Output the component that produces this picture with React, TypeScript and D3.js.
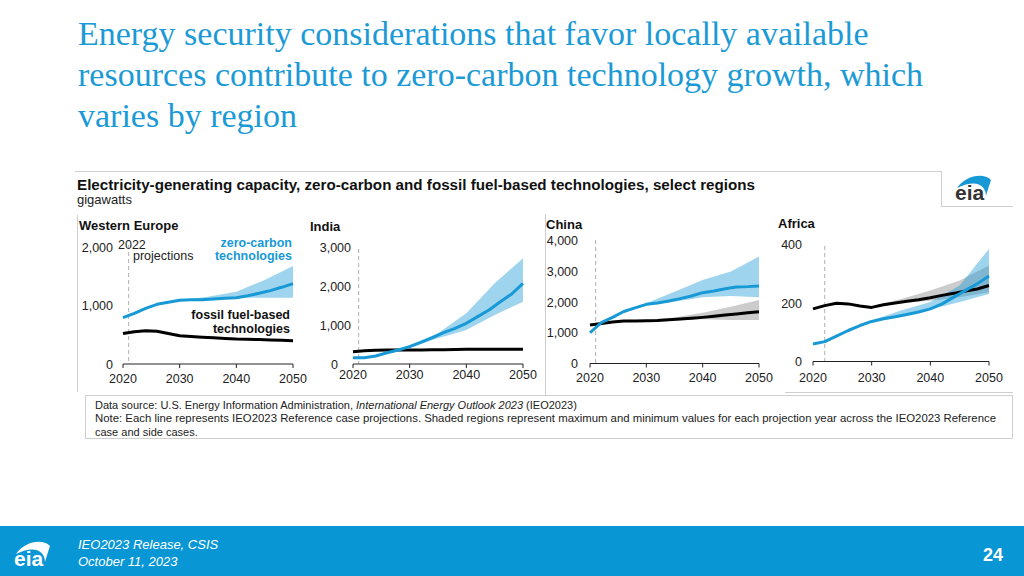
import React from "react";
import * as d3 from "d3";

// ---------- text ----------
const titleLines = [
  "Energy security considerations that favor locally available",
  "resources contribute to zero-carbon technology growth, which",
  "varies by region",
];
const chartTitle =
  "Electricity-generating capacity, zero-carbon and fossil fuel-based technologies, select regions";
const unitLabel = "gigawatts";
const sourcePre = "Data source: U.S. Energy Information Administration, ";
const sourceItalic = "International Energy Outlook 2023";
const sourcePost = " (IEO2023)";
const noteLine1 =
  "Note: Each line represents IEO2023 Reference case projections. Shaded regions represent maximum and minimum values for each projection year across the IEO2023 Reference";
const noteLine2 = "case and side cases.";
const footerLines = ["IEO2023 Release, CSIS", "October 11, 2023"];
const pageNumber = "24";

// ---------- data ----------
const regions = ["Western Europe", "India", "China", "Africa"];
const yMaxes = [2000, 3000, 4000, 400];
const yTickSteps = [1000, 1000, 1000, 200];
const xTickYears = [2020, 2030, 2040, 2050];
const projectionStart = [2021, 2021, 2021, 2022];
const lineYears = [2020, 2022, 2024, 2026, 2028, 2030, 2032, 2034, 2036, 2038, 2040, 2042, 2044, 2046, 2048, 2050];
const bandYears = [2028, 2030, 2035, 2040, 2045, 2050];

const weZero = [792, 866, 951, 1020, 1054, 1088, 1100, 1100, 1111, 1122, 1134, 1168, 1208, 1254, 1311, 1373];
const weFossil = [520, 553, 568, 560, 520, 484, 470, 458, 447, 437, 427, 424, 418, 410, 405, 399];
const weZeroLow = [1054, 1088, 1100, 1134, 1134, 1134];
const weZeroHigh = [1054, 1092, 1151, 1236, 1436, 1675];

const indiaZero = [162, 162, 205, 290, 359, 444, 556, 675, 803, 915, 1043, 1214, 1385, 1598, 1795, 2068];
const indiaFossil = [316, 342, 352, 359, 359, 359, 362, 365, 368, 372, 376, 376, 376, 376, 376, 376];
const indiaZeroLow = [359, 427, 658, 872, 1256, 1598];
const indiaZeroHigh = [359, 487, 786, 1299, 2068, 2709];

const chinaZero = [1000, 1326, 1500, 1690, 1810, 1924, 1970, 2030, 2110, 2196, 2304, 2360, 2430, 2490, 2500, 2522];
const chinaFossil = [1250, 1304, 1350, 1380, 1385, 1391, 1400, 1420, 1445, 1470, 1500, 1535, 1575, 1610, 1650, 1685];
const chinaZeroLow = [1810, 1902, 2011, 2152, 2196, 2152];
const chinaZeroHigh = [1810, 1957, 2337, 2717, 2989, 3478];
const chinaFossilLow = [1385, 1380, 1400, 1435, 1413, 1413];
const chinaFossilHigh = [1385, 1413, 1500, 1652, 1848, 2065];

const africaZero = [60, 68, 87, 106, 123, 137, 146, 153, 161, 169, 180, 197, 220, 243, 266, 292];
const africaFossil = [180, 191, 199, 197, 190, 185, 194, 200, 206, 211, 218, 226, 233, 241, 248, 260];
const africaZeroLow = [123, 134, 152, 178, 203, 231];
const africaZeroHigh = [123, 140, 174, 203, 260, 385];
const africaFossilLow = [190, 183, 200, 208, 220, 237];
const africaFossilHigh = [190, 188, 214, 243, 277, 328];

const zeroSeries = [weZero, indiaZero, chinaZero, africaZero];
const fossilSeries = [weFossil, indiaFossil, chinaFossil, africaFossil];
const zeroBands: (number[][] | null)[] = [
  [weZeroLow, weZeroHigh],
  [indiaZeroLow, indiaZeroHigh],
  [chinaZeroLow, chinaZeroHigh],
  [africaZeroLow, africaZeroHigh],
];
const fossilBands: (number[][] | null)[] = [
  null,
  null,
  [chinaFossilLow, chinaFossilHigh],
  [africaFossilLow, africaFossilHigh],
];

// ---------- layout / style ----------
const BLUE = "#1799d6";
const TITLE_BLUE = "#1b9ad6";
const SANS = "'Liberation Sans', Arial, sans-serif";
const SERIF = "'Liberation Serif', 'Times New Roman', serif";

const panelGeom = [
  { x0: 123, x1: 293, yBase: 364, yTop: 247, labelRight: 113, zeroShift: 0, titleX: 79, titleY: 230, xLabelY: 382.5, dashTop: 245 },
  { x0: 353, x1: 523, yBase: 364, yTop: 247, labelRight: 351, zeroShift: -13, titleX: 310, titleY: 231, xLabelY: 379, dashTop: 249 },
  { x0: 590, x1: 759, yBase: 363.5, yTop: 240.5, labelRight: 578, zeroShift: 0, titleX: 546, titleY: 229, xLabelY: 381.5, dashTop: 240 },
  { x0: 813, x1: 989, yBase: 361.5, yTop: 244.5, labelRight: 802, zeroShift: 0, titleX: 778, titleY: 228, xLabelY: 381.5, dashTop: 246 },
];

function Panel({ i }: { i: number }) {
  const g = panelGeom[i];
  const x = d3.scaleLinear().domain([2020, 2050]).range([g.x0, g.x1]);
  const y = d3.scaleLinear().domain([0, yMaxes[i]]).range([g.yBase, g.yTop]);
  const yTicks = d3.range(0, yMaxes[i] + 1, yTickSteps[i]);
  const line = d3
    .line<number>()
    .x((_, k) => x(lineYears[k]))
    .y((d) => y(d));
  const area = (band: number[][]) =>
    d3
      .area<number>()
      .x((_, k) => x(bandYears[k]))
      .y0((_, k) => y(band[0][k]))
      .y1((_, k) => y(band[1][k]))(band[0]) || "";
  const fb = fossilBands[i];
  const zb = zeroBands[i];
  return (
    <g>
      <text x={g.titleX} y={g.titleY} fontFamily={SANS} fontWeight="bold" fontSize={13} fill="#111">
        {regions[i]}
      </text>
      {yTicks.map((t) => (
        <text
          key={t}
          x={g.labelRight + (t === 0 ? g.zeroShift : 0)}
          y={y(t) + 4.5}
          textAnchor="end"
          fontFamily={SANS}
          fontSize={12.5}
          fill="#222"
        >
          {d3.format(",")(t)}
        </text>
      ))}
      <line
        x1={x(projectionStart[i])}
        x2={x(projectionStart[i])}
        y1={g.dashTop}
        y2={g.yBase}
        stroke="#b0b0b0"
        strokeWidth={1}
        strokeDasharray="4,3"
      />
      {fb && <path d={area(fb)} fill="#b0b0b0" fillOpacity={0.65} />}
      {zb && <path d={area(zb)} fill={BLUE} fillOpacity={0.42} />}
      <path d={line(fossilSeries[i]) || ""} fill="none" stroke="#000" strokeWidth={3} strokeLinejoin="round" />
      <path d={line(zeroSeries[i]) || ""} fill="none" stroke={BLUE} strokeWidth={3} strokeLinejoin="round" />
      <line x1={g.x0} x2={g.x1} y1={g.yBase} y2={g.yBase} stroke="#222" strokeWidth={1} />
      {xTickYears.map((t) => (
        <g key={t}>
          <line x1={x(t)} x2={x(t)} y1={g.yBase} y2={g.yBase + 4} stroke="#222" strokeWidth={1} />
          <text x={x(t)} y={g.xLabelY} textAnchor="middle" fontFamily={SANS} fontSize={12.5} fill="#222">
            {t}
          </text>
        </g>
      ))}
    </g>
  );
}

function EiaLogo({ x, y, color, arc }: { x: number; y: number; color: string; arc: string }) {
  return (
    <g>
      <path
        d={`M ${x + 2} ${y - 12} C ${x + 10} ${y - 24}, ${x + 28} ${y - 28}, ${x + 36} ${y - 20} C ${x + 34} ${y - 14}, ${x + 32} ${y - 8}, ${x + 31} ${y - 4} C ${x + 31} ${y - 14}, ${x + 22} ${y - 22}, ${x + 2} ${y - 12} Z`}
        fill={arc}
      />
      <text x={x} y={y} fontFamily={SANS} fontWeight="bold" fontSize={21} fill={color}>
        eia
      </text>
    </g>
  );
}

export default function App() {
  return (
    <div style={{ position: "fixed", left: 0, top: 0 }}>
      <svg width={1024} height={576} viewBox="0 0 1024 576" style={{ display: "block", background: "#fff" }}>
        {titleLines.map((t, k) => (
          <text key={k} x={78} y={45 + k * 41} fontFamily={SERIF} fontSize={34} fill={TITLE_BLUE}>
            {t}
          </text>
        ))}

        {/* frame lines */}
        <g stroke="#cfcfcf" strokeWidth={1} fill="none">
          <path d="M75 171.5 H941.5 V206.5 H1013" />
          <path d="M77.5 215 V392" />
          <path d="M545.5 214 V395" />
          <path d="M785 392.5 H1013" />
          <rect x={85.5} y={395.5} width={927} height={43} />
        </g>

        <text x={77} y={190} fontFamily={SANS} fontWeight="bold" fontSize={14} fill="#111" textLength={678} lengthAdjust="spacingAndGlyphs">
          {chartTitle}
        </text>
        <text x={77} y={204} fontFamily={SANS} fontSize={13} fill="#222">
          {unitLabel}
        </text>
        <EiaLogo x={955} y={200} color="#333" arc={BLUE} />

        {regions.map((_, i) => (
          <Panel key={i} i={i} />
        ))}

        {/* Western Europe annotations */}
        <g fontFamily={SANS} fontSize={12.5}>
          <text x={118} y={249} fill="#222">2022</text>
          <text x={133} y={260} fill="#222">projections</text>
          <text x={292} y={246.5} textAnchor="end" fill={BLUE} fontWeight="bold">zero-carbon</text>
          <text x={292} y={260} textAnchor="end" fill={BLUE} fontWeight="bold">technologies</text>
          <text x={290} y={319} textAnchor="end" fill="#111" fontWeight="bold">fossil fuel-based</text>
          <text x={290} y={333} textAnchor="end" fill="#111" fontWeight="bold">technologies</text>
        </g>

        {/* note */}
        <g fontFamily={SANS} fontSize={11} fill="#222">
          <text x={95} y={409}>
            {sourcePre}
            <tspan fontStyle="italic">{sourceItalic}</tspan>
            {sourcePost}
          </text>
          <text x={95} y={422} textLength={901} lengthAdjust="spacingAndGlyphs">
            {noteLine1}
          </text>
          <text x={95} y={436}>{noteLine2}</text>
        </g>

        {/* footer */}
        <rect x={0} y={526} width={1024} height={50} fill="#0996d5" />
        <EiaLogo x={14} y={566} color="#fff" arc="#fff" />
        {footerLines.map((t, k) => (
          <text key={k} x={78} y={549 + k * 17} fontFamily={SANS} fontStyle="italic" fontSize={13} fill="#fff">
            {t}
          </text>
        ))}
        <text x={993} y={561} textAnchor="middle" fontFamily={SANS} fontWeight="bold" fontSize={18} fill="#fff">
          {pageNumber}
        </text>
      </svg>
    </div>
  );
}
